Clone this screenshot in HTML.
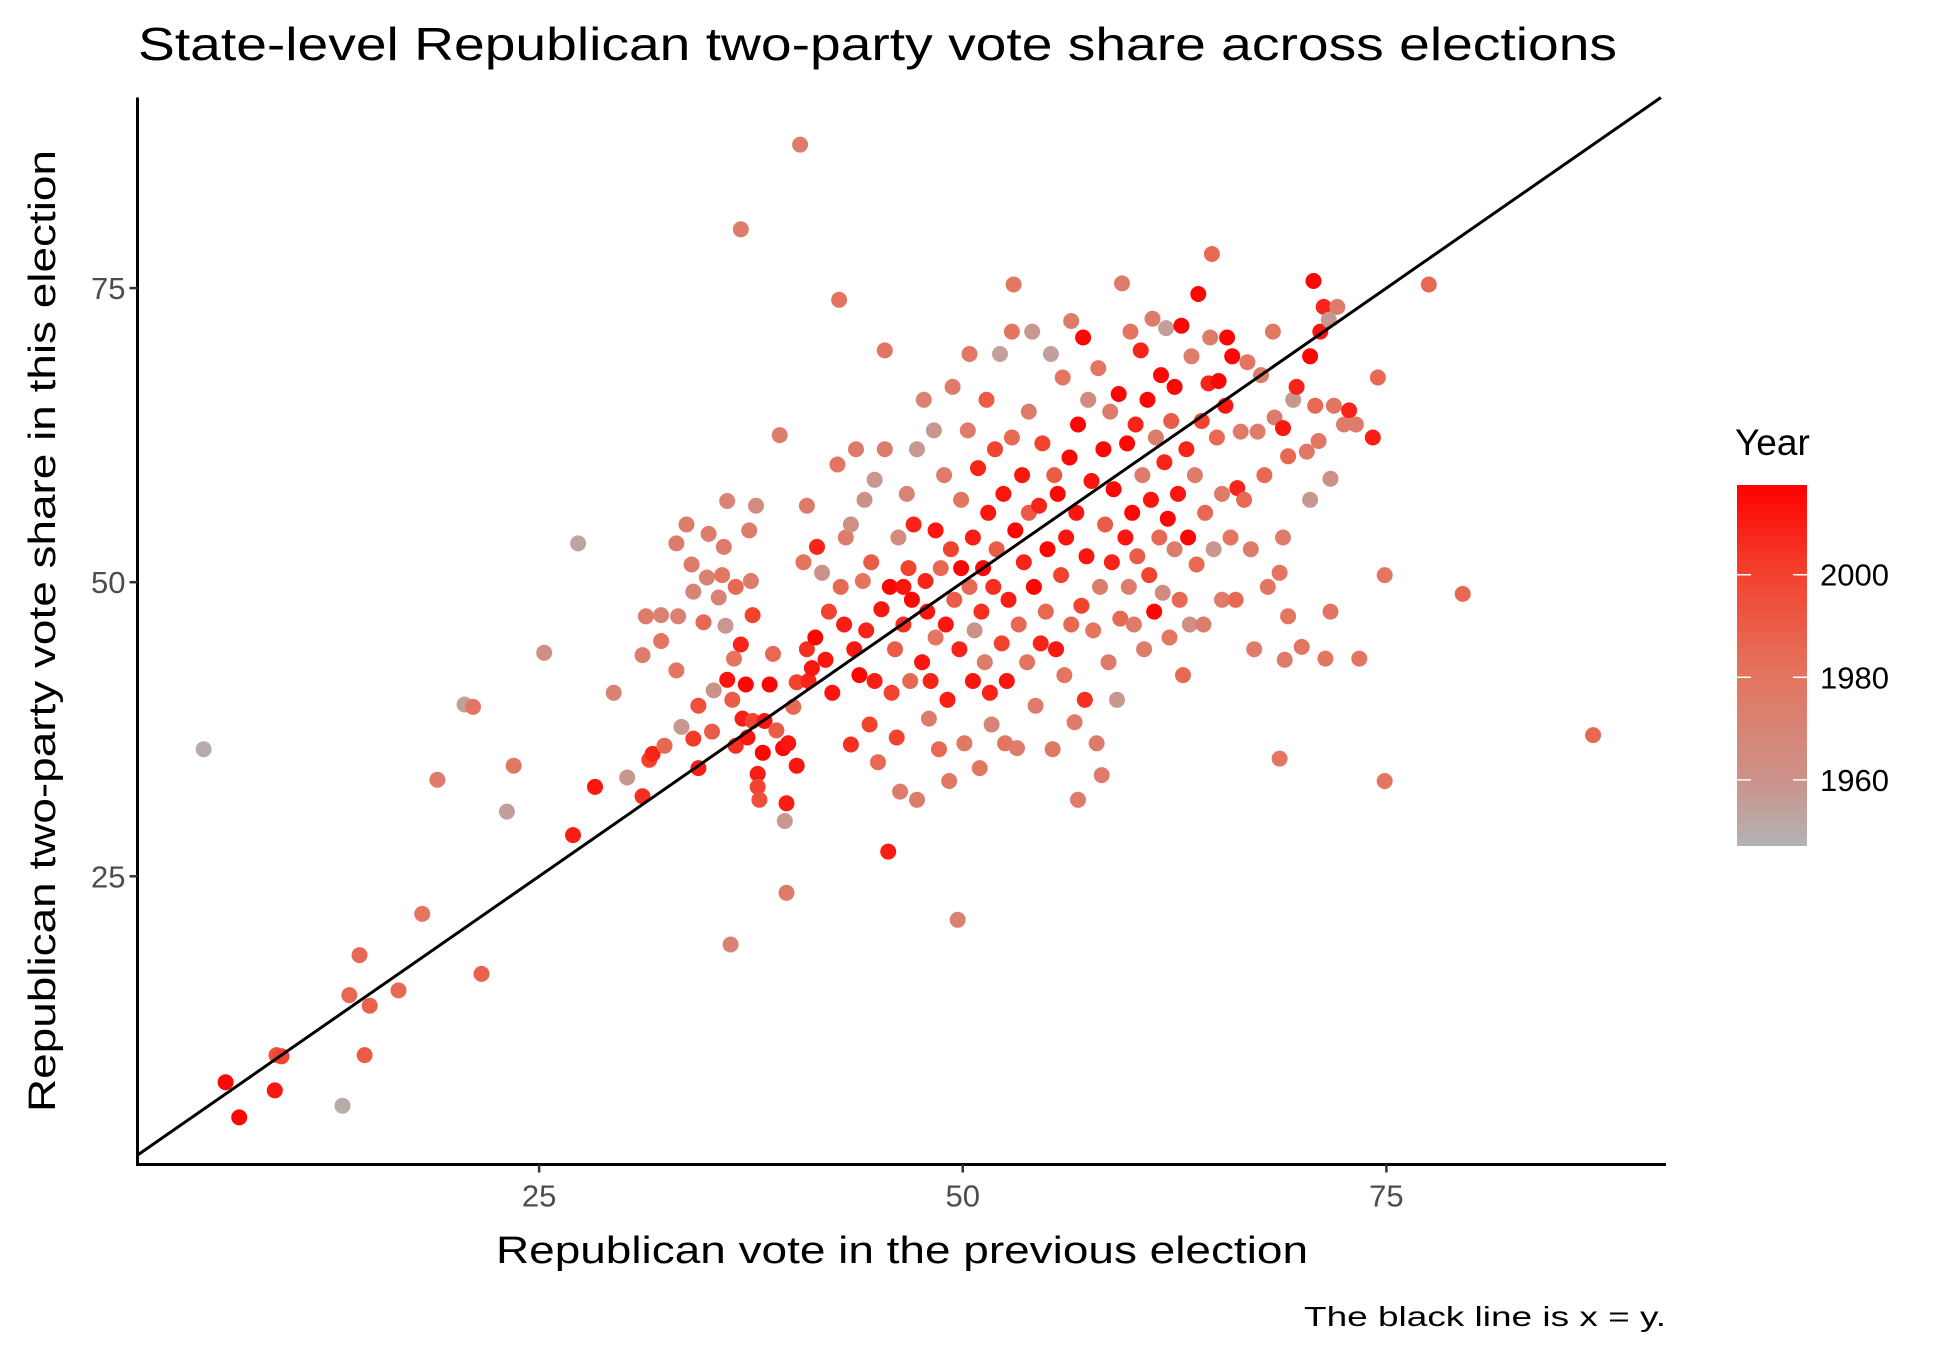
<!DOCTYPE html>
<html><head><meta charset="utf-8"><title>State-level Republican vote share</title>
<style>
html,body{margin:0;padding:0;background:#fff;}
svg{display:block;font-family:"Liberation Sans",Arial,sans-serif;}
</style></head>
<body>
<svg id="chart" width="1950" height="1350" viewBox="0 0 1950 1350" xmlns="http://www.w3.org/2000/svg">
<rect width="1950" height="1350" fill="#fff"/>
<text x="138" y="60" font-size="46" fill="#000" textLength="1479" lengthAdjust="spacingAndGlyphs">State-level Republican two-party vote share across elections</text>
<g id="points"></g>
<g id="axes"></g>
<text x="902" y="1263" font-size="38" text-anchor="middle" textLength="812" lengthAdjust="spacingAndGlyphs">Republican vote in the previous election</text>
<text transform="translate(55,631) rotate(-90)" font-size="38" text-anchor="middle" textLength="962" lengthAdjust="spacingAndGlyphs">Republican two-party vote share in this election</text>
<text x="1666" y="1326" font-size="28" text-anchor="end" textLength="362" lengthAdjust="spacingAndGlyphs">The black line is x = y.</text>
<g id="legend">
<defs><linearGradient id="yg" x1="0" y1="1" x2="0" y2="0">
<stop offset="0" stop-color="rgb(179,179,179)"/><stop offset="0.19" stop-color="rgb(204,145,136)"/><stop offset="0.47" stop-color="rgb(228,117,96)"/><stop offset="0.75" stop-color="rgb(242,67,47)"/><stop offset="1" stop-color="rgb(255,0,0)"/>
</linearGradient></defs>
<text x="1735" y="455" font-size="37">Year</text>
<rect x="1737" y="485" width="70" height="361" fill="url(#yg)"/>
</g>
</svg>
<script>
const prevVote = [5.2,6.5,7.3,9.4,9.5,9.8,13.4,13.8,14.4,14.7,15.0,16.7,18.1,19.0,20.6,21.1,21.6,23.5,23.1,25.3,27.0,27.3,28.3,29.4,30.2,31.1,31.1,31.3,31.5,31.7,32.2,32.2,32.4,33.1,33.1,33.2,33.4,33.7,34.0,34.1,34.1,34.4,34.4,34.7,34.9,35.2,35.0,35.3,35.6,35.8,35.9,36.1,36.1,36.3,36.9,36.0,36.4,36.5,36.6,36.6,36.9,37.0,37.2,37.3,37.4,37.5,37.6,37.6,37.8,37.9,37.9,38.0,38.2,38.3,38.6,38.8,39.0,39.2,39.4,39.5,39.6,39.6,39.7,40.0,40.2,40.2,40.4,40.6,40.8,40.8,40.9,41.1,41.3,41.4,41.7,41.9,42.1,42.3,42.6,42.7,42.8,43.0,43.1,43.4,43.4,43.6,43.7,43.9,44.1,44.2,44.3,44.5,44.6,44.8,44.8,45.0,45.2,45.4,45.4,45.6,45.7,45.8,46.0,46.1,46.2,46.3,46.5,46.5,46.7,46.8,46.9,47.0,47.1,47.3,47.3,47.6,47.7,47.8,47.9,48.0,48.1,48.3,48.4,48.4,48.6,48.7,48.9,49.0,49.1,49.2,49.3,49.4,49.5,49.7,49.8,49.9,49.9,50.1,50.3,50.4,50.4,50.6,50.6,50.7,50.9,51.0,51.1,51.2,51.3,51.4,51.5,51.6,51.7,51.8,51.9,52.0,52.2,52.3,52.4,52.5,52.6,52.7,52.9,52.9,53.0,53.1,53.2,53.3,53.5,53.6,53.8,53.9,53.9,54.1,54.2,54.3,54.5,54.6,54.7,54.9,55.0,55.2,55.3,55.4,55.5,55.6,55.8,55.9,56.0,56.1,56.3,56.4,56.4,56.6,56.7,56.8,56.8,57.0,57.1,57.2,57.3,57.4,57.6,57.7,57.9,58.0,58.1,58.2,58.3,58.4,58.6,58.7,58.8,58.9,59.1,59.2,59.3,59.4,59.6,59.7,59.8,59.9,60.0,60.1,60.2,60.3,60.5,60.6,60.7,60.9,61.0,61.1,61.2,61.3,61.4,61.6,61.7,61.8,61.9,62.0,62.1,62.2,62.3,62.5,62.5,62.7,62.8,62.9,63.0,63.2,63.3,63.4,63.5,63.7,63.8,63.9,64.1,64.2,64.3,64.5,64.6,64.7,64.8,65.0,65.1,65.3,65.3,65.5,65.6,65.8,65.9,66.1,66.2,66.4,66.6,66.8,67.0,67.2,67.4,67.6,67.8,68.0,68.3,68.4,68.7,68.7,68.9,68.9,69.0,69.2,69.2,69.5,69.7,70.0,70.3,70.5,70.5,70.7,70.8,71.0,71.1,71.3,71.4,71.6,71.7,71.7,71.9,72.1,72.5,72.8,73.2,73.4,74.2,74.5,74.9,74.9,77.5,79.5,87.2];
const thisVote = [35.8,7.5,4.5,6.8,9.8,9.7,5.5,14.9,18.3,9.8,14.0,15.3,21.8,33.2,39.6,39.4,16.7,34.4,30.5,44.0,28.5,53.3,32.6,40.6,33.4,31.8,43.8,47.1,34.9,35.4,47.2,45.0,36.1,42.5,53.3,47.1,37.7,54.9,51.5,36.7,49.2,34.2,39.5,46.6,50.4,37.3,54.1,40.8,48.7,50.6,53.0,41.7,56.9,19.2,80.0,46.3,40.0,43.5,49.6,36.1,44.7,38.4,41.3,36.8,54.4,50.1,47.2,38.2,56.5,33.7,32.6,31.5,35.5,38.2,41.3,43.9,37.4,62.5,35.9,29.7,23.6,31.2,36.3,39.4,34.4,41.5,87.2,51.7,44.3,56.5,41.6,42.7,45.3,53.0,50.8,43.4,47.5,40.6,60.0,74.0,49.6,46.4,53.8,36.2,54.9,44.3,61.3,42.1,50.1,57.0,45.9,37.9,51.7,41.6,58.7,34.7,47.7,61.3,69.7,27.1,49.6,40.6,44.3,36.8,53.8,32.2,46.4,49.6,57.5,51.2,41.6,48.5,54.9,31.5,61.3,43.2,65.5,50.1,47.5,38.4,41.6,62.9,45.3,54.4,35.8,51.2,59.1,46.4,40.0,33.1,52.8,66.6,48.5,21.3,44.3,51.2,57.0,36.3,62.9,49.6,69.4,41.6,53.8,45.9,59.7,34.2,47.5,51.2,43.2,65.5,55.9,40.6,37.9,49.6,61.3,52.8,69.4,44.8,57.5,36.3,41.6,48.5,71.3,62.3,75.3,54.4,35.9,46.4,59.1,51.7,43.2,55.9,64.5,71.3,49.6,39.5,56.5,44.8,61.8,47.5,52.8,69.4,35.8,59.1,44.3,57.5,50.6,67.4,42.1,53.8,60.6,46.4,72.2,38.1,55.9,31.5,63.4,48.0,70.8,40.0,52.2,65.5,58.6,45.9,36.3,68.2,49.6,33.6,61.3,54.9,43.2,64.5,51.7,57.9,40.0,66.0,46.9,75.4,53.8,61.8,49.6,71.3,55.9,46.4,63.4,52.2,69.7,59.1,44.3,65.5,50.6,57.0,72.4,47.5,62.3,53.8,67.6,49.1,60.2,71.6,55.4,45.3,63.7,52.8,66.6,57.5,48.5,71.8,42.1,61.3,53.8,46.4,69.2,59.1,51.5,74.5,63.7,46.4,55.9,66.9,70.8,77.9,52.8,62.3,67.1,48.5,57.5,65.0,70.8,53.8,69.2,48.5,58.0,62.8,57.0,68.7,52.8,44.3,62.8,67.6,59.1,49.6,71.3,64.0,35.0,50.8,53.8,63.1,43.4,60.7,47.1,65.5,66.6,44.5,61.1,57.0,69.2,75.6,65.0,62.0,71.3,73.4,43.5,72.3,47.5,58.8,65.0,73.4,63.4,64.6,63.4,43.5,62.3,67.4,50.6,33.1,75.3,49.0,37.0];
const electionYear = [1950,2016,2016,2012,1995,2000,1950,1985,1985,1990,1988,1985,1980,1975,1955,1980,1988,1978,1955,1962,2010,1953,2012,1972,1958,2005,1975,1975,2000,2008,1972,1980,1985,1980,1975,1972,1958,1975,1975,2002,1970,2010,1995,1985,1972,1990,1975,1960,1970,1980,1975,2012,1970,1972,1975,1958,1990,1980,1985,2005,2008,2010,2016,2012,1975,1975,2000,2000,1965,2010,2000,1995,2016,2012,2016,1985,1990,1975,2016,1958,1975,2010,2012,1985,2012,2000,1975,1980,2005,1975,2008,2012,2016,2008,1960,2012,2000,2012,1980,1980,1985,2010,1975,2005,1962,2012,1975,2016,1980,1960,2008,2000,1990,2010,1958,1985,2012,1975,1980,2010,2016,2000,1990,2000,1965,1975,2005,2012,1970,2000,1985,2016,2008,1975,1958,2012,1972,2008,2012,1975,2008,1958,1980,2012,1985,1985,1975,2012,2010,1978,2000,1975,1990,1972,2008,2016,1980,1978,1975,1985,1978,2012,2010,1960,2008,1980,2005,2016,1975,1990,2012,2008,1970,2005,2000,1990,1955,2000,2012,1980,2012,2010,1980,1985,1978,2016,1975,1985,2012,2008,1980,1990,1975,1958,2016,1975,2008,2008,2000,1985,2016,1955,1978,1990,2012,2016,2000,1980,1980,2012,2016,1985,1975,1975,2012,1975,2016,2000,2016,2005,2012,1965,2012,1980,1975,1980,1975,1975,2016,1990,1975,1975,2008,2016,1958,2016,1985,1975,2012,2016,1975,1980,2016,1975,2008,1990,2008,1975,1975,2016,2000,2012,1975,2016,1975,1985,2016,1965,2008,1955,2016,1980,1990,1975,2016,2012,1985,2016,1985,2008,2016,1962,1975,1975,1985,2016,2000,1975,1985,2008,1975,1985,1958,1985,2016,1975,1975,2012,2016,1980,2016,1985,2008,1975,1985,1980,1975,1975,1975,1975,1985,1980,1978,1975,1980,1980,1975,2012,1975,1985,1980,1958,2008,1980,1978,1958,2016,2016,1985,1980,2012,2008,1980,1958,1980,1962,1980,1975,1975,2008,1975,1980,2010,1985,1980,1980,1985,1985,1985];
const xTickValues = [25, 50, 75];
const xTickLabels = ["25", "50", "75"];
const yTickValues = [25, 50, 75];
const yTickLabels = ["25", "50", "75"];
const legendTickYears = [1960, 1980, 2000];
const legendTickLabels = ["1960", "1980", "2000"];

const NS = "http://www.w3.org/2000/svg";
const PLOT = {left:137.5, right:1666, top:97.5, bottom:1164.5};
const X_DOMAIN = [1.3, 91.5];
const Y_DOMAIN = [0.5, 91.2];
const YEAR_LIM = [1947.1, 2017.5];
function xScale(v){ return PLOT.left + (v - X_DOMAIN[0]) / (X_DOMAIN[1] - X_DOMAIN[0]) * (PLOT.right - PLOT.left); }
function yScale(v){ return PLOT.bottom - (v - Y_DOMAIN[0]) / (Y_DOMAIN[1] - Y_DOMAIN[0]) * (PLOT.bottom - PLOT.top); }
const BAR = {x:1737, y:485, w:70, h:361};
function legendY(yr){ return BAR.y + (YEAR_LIM[1] - yr) / (YEAR_LIM[1] - YEAR_LIM[0]) * BAR.h; }
const STOPS = [[0,[179,179,179]],[0.19,[204,145,136]],[0.47,[228,117,96]],[0.75,[242,67,47]],[1,[255,0,0]]];
function yearColor(yr){
  let t = (yr - YEAR_LIM[0]) / (YEAR_LIM[1] - YEAR_LIM[0]);
  t = Math.max(0, Math.min(1, t));
  for (let i = 1; i < STOPS.length; i++) {
    if (t <= STOPS[i][0]) {
      const a = STOPS[i-1], b = STOPS[i];
      const f = (t - a[0]) / (b[0] - a[0]);
      const c = a[1].map((v, k) => Math.round(v + (b[1][k] - v) * f));
      return "rgb(" + c.join(",") + ")";
    }
  }
  return "rgb(255,0,0)";
}
function mk(tag, attrs, parent){
  const el = document.createElementNS(NS, tag);
  for (const k in attrs) el.setAttribute(k, attrs[k]);
  parent.appendChild(el);
  return el;
}

const pts = document.getElementById("points");
for (let i = 0; i < prevVote.length; i++) {
  const c = mk("circle", {cx: xScale(prevVote[i]).toFixed(1), cy: yScale(thisVote[i]).toFixed(1), r: 8, fill: yearColor(electionYear[i])}, pts);
  
  
}

const axes = document.getElementById("axes");
const diag = mk("line", {x1: xScale(X_DOMAIN[0]), y1: yScale(X_DOMAIN[0]), x2: xScale(Y_DOMAIN[1]), y2: yScale(Y_DOMAIN[1]), stroke: "#000", "stroke-width": 3}, axes);


const xAxis = mk("line", {x1: PLOT.left - 1.5, y1: PLOT.bottom, x2: PLOT.right, y2: PLOT.bottom, stroke: "#000", "stroke-width": 3}, axes);


const yAxis = mk("line", {x1: PLOT.left, y1: PLOT.top, x2: PLOT.left, y2: PLOT.bottom + 1.5, stroke: "#000", "stroke-width": 3}, axes);



xTickValues.forEach((v, i) => {
  const x = xScale(v);
  const t = mk("line", {x1: x, y1: PLOT.bottom, x2: x, y2: PLOT.bottom + 8, stroke: "#333", "stroke-width": 2.5}, axes);
  
  
  const l = mk("text", {x: x, y: PLOT.bottom + 42, "font-size": 31, fill: "#4D4D4D", "text-anchor": "middle"}, axes);
  l.textContent = xTickLabels[i];
  
  
});
yTickValues.forEach((v, i) => {
  const y = yScale(v);
  const t = mk("line", {x1: PLOT.left - 8, y1: y, x2: PLOT.left, y2: y, stroke: "#333", "stroke-width": 2.5}, axes);
  
  
  const l = mk("text", {x: PLOT.left - 12, y: y + 11, "font-size": 31, fill: "#4D4D4D", "text-anchor": "end"}, axes);
  l.textContent = yTickLabels[i];
  
  
});

const leg = document.getElementById("legend");
legendTickYears.forEach((yr, i) => {
  const y = legendY(yr);
  const a = mk("line", {x1: BAR.x, y1: y, x2: BAR.x + 14, y2: y, stroke: "#fff", "stroke-width": 1.5}, leg);
  
  
  const b = mk("line", {x1: BAR.x + BAR.w - 14, y1: y, x2: BAR.x + BAR.w, y2: y, stroke: "#fff", "stroke-width": 1.5}, leg);
  
  
  const l = mk("text", {x: BAR.x + BAR.w + 13, y: y + 11, "font-size": 31, fill: "#000"}, leg);
  l.textContent = legendTickLabels[i];
  
  
});
</script>
</body></html>
